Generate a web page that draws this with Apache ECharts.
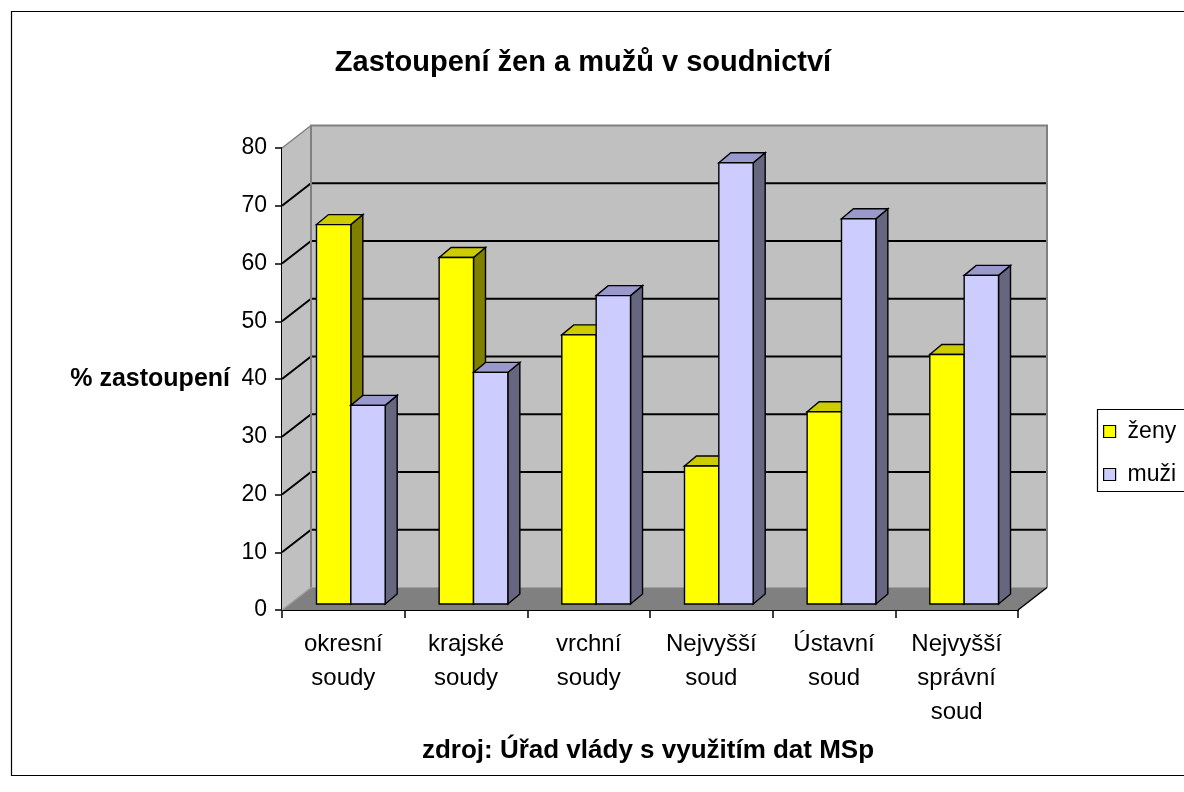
<!DOCTYPE html>
<html>
<head>
<meta charset="utf-8">
<script src="https://cdn.jsdelivr.net/npm/echarts@6/dist/echarts.min.js"></script>
<style>
html,body{margin:0;padding:0;background:#fff;}
#chart{width:1184px;height:792px;}
</style>
</head>
<body>
<div id="chart"></div>
<script>
// ---- data ----
const categories = ['okresní\nsoudy', 'krajské\nsoudy', 'vrchní\nsoudy', 'Nejvyšší\nsoud', 'Ústavní\nsoud', 'Nejvyšší\nsprávní\nsoud'];
const zeny = [65.7, 60.0, 46.6, 23.9, 33.3, 43.2];
const muzi = [34.4, 40.1, 53.4, 76.4, 66.7, 56.9];
const yTicks = [0, 10, 20, 30, 40, 50, 60, 70, 80];
const seriesNames = ['ženy', 'muži'];
const titleText = 'Zastoupení žen a mužů v soudnictví';
const yAxisTitle = '% zastoupení';
const sourceText = 'zdroj: Úřad vlády s využitím dat MSp';

const FONT = "'Liberation Sans', Arial, sans-serif";
// 3D projection offsets (pixels)
const BACK = [29, -22.5];     // back wall relative to front plane
const BAR_FRONT = [7.5, -6];  // bar front face relative to front plane
const BAR_DEPTH = [12, -10];  // bar depth
const COLORS = {
  zeny: {front: '#FFFF00', top: '#CCCC00', side: '#808000'},
  muzi: {front: '#CCCCFF', top: '#9999CC', side: '#666680'}
};

const chart = echarts.init(document.getElementById('chart'), null, {renderer: 'canvas'});

function wallsRender(params, api) {
  const cs = params.coordSys;
  const L = cs.x, R = cs.x + cs.width, B = cs.y + cs.height, T = cs.y;
  const bx = BACK[0], by = BACK[1];
  const children = [];
  children.push({type: 'polygon', shape: {points: [[L, B], [L, T], [L + bx, T + by], [L + bx, B + by]]},
    style: {fill: '#C0C0C0', stroke: null}});
  children.push({type: 'rect', shape: {x: L + bx, y: T + by, width: cs.width, height: cs.height},
    style: {fill: '#C0C0C0', stroke: null}});
  children.push({type: 'polygon', shape: {points: [[L, B], [R, B], [R + bx, B + by], [L + bx, B + by]]},
    style: {fill: '#808080', stroke: null}});
  yTicks.forEach(function (t) {
    const p = api.coord([0, t]);
    const y = p[1];
    const edge = (t === yTicks[0] || t === yTicks[yTicks.length - 1]);
    const col = edge ? '#808080' : '#000000';
    children.push({type: 'line', shape: {x1: L, y1: y, x2: L + bx, y2: y + by},
      style: {stroke: t === yTicks[0] ? '#A0A0A0' : col, lineWidth: edge ? 1.5 : 2}});
    if (!edge) {
      children.push({type: 'line', shape: {x1: L + bx, y1: y + by, x2: R + bx, y2: y + by},
        style: {stroke: '#000', lineWidth: 2}});
    }
  });
  children.push({type: 'polyline', shape: {points: [[L + bx, B + by], [L + bx, T + by], [R + bx, T + by], [R + bx, B + by]]},
    style: {stroke: '#808080', lineWidth: 2, fill: null}});
  children.push({type: 'line', shape: {x1: L + bx, y1: B + by, x2: R + bx, y2: B + by},
    style: {stroke: '#A0A0A0', lineWidth: 1}});
  children.push({type: 'line', shape: {x1: R, y1: B, x2: R + bx, y2: B + by},
    style: {stroke: '#000', lineWidth: 1.5}});
  return {type: 'group', children: children};
}

function makeBarRender(side, col) {
  return function (params, api) {
    const cat = api.value(0), v = api.value(1);
    const p0 = api.coord([cat, 0]);
    const p1 = api.coord([cat, v]);
    const bw = api.size([1, 0])[0] * 0.28;
    const x = p0[0] + BAR_FRONT[0] + (side === 0 ? -bw : 0);
    const yb = p0[1] + BAR_FRONT[1];
    const yt = p1[1] + BAR_FRONT[1];
    const dx = BAR_DEPTH[0], dy = BAR_DEPTH[1];
    const st = {stroke: '#000', lineWidth: 1.4, lineJoin: 'miter'};
    return {
      type: 'group',
      children: [
        {type: 'polygon', shape: {points: [[x + bw, yb], [x + bw + dx, yb + dy], [x + bw + dx, yt + dy], [x + bw, yt]]},
          style: Object.assign({fill: col.side}, st)},
        {type: 'polygon', shape: {points: [[x, yt], [x + dx, yt + dy], [x + bw + dx, yt + dy], [x + bw, yt]]},
          style: Object.assign({fill: col.top}, st)},
        {type: 'rect', shape: {x: x, y: yt, width: bw, height: yb - yt},
          style: Object.assign({fill: col.front}, st)}
      ]
    };
  };
}

const option = {
  backgroundColor: '#ffffff',
  animation: false,
  title: {
    text: titleText,
    left: 578,
    textAlign: 'center',
    top: 43,
    textStyle: {fontFamily: FONT, fontSize: 29, fontWeight: 'bold', color: '#000'}
  },
  legend: {
    orient: 'vertical',
    left: 1103,
    top: 420,
    padding: 0,
    itemWidth: 12,
    itemHeight: 12,
    itemGap: 20,
    textStyle: {fontFamily: FONT, fontSize: 23, color: '#000', padding: [0, 0, 0, 7]},
    data: [
      {name: seriesNames[0], icon: 'rect', itemStyle: {color: COLORS.zeny.front, borderColor: '#000', borderWidth: 1.2}},
      {name: seriesNames[1], icon: 'rect', itemStyle: {color: COLORS.muzi.front, borderColor: '#000', borderWidth: 1.2}}
    ]
  },
  grid: {left: 282, right: 166, top: 148, bottom: 182, containLabel: false},
  xAxis: {
    type: 'category',
    data: categories,
    boundaryGap: true,
    axisLine: {show: true, lineStyle: {color: '#000', width: 2}},
    axisTick: {show: true, length: 8, lineStyle: {color: '#000', width: 1.5}},
    axisLabel: {interval: 0, fontFamily: FONT, fontSize: 24, lineHeight: 34, color: '#000', margin: 17},
    splitLine: {show: false}
  },
  yAxis: {
    type: 'value',
    min: 0,
    max: 80,
    interval: 10,
    axisLine: {show: true, lineStyle: {color: '#000', width: 2}},
    axisTick: {show: true, length: 7, lineStyle: {color: '#000', width: 1.5}},
    axisLabel: {fontFamily: FONT, fontSize: 23, color: '#000', margin: 15},
    splitLine: {show: false}
  },
  graphic: [
    {type: 'rect', shape: {x: 11.5, y: 11.5, width: 1200, height: 764}, style: {fill: null, stroke: '#000', lineWidth: 1.2}, z: -10, silent: true},
    {type: 'rect', shape: {x: 1097.5, y: 409.5, width: 120, height: 82}, style: {fill: '#fff', stroke: '#000', lineWidth: 1.2}, z: 0, silent: true},
    {type: 'text', x: 230, y: 379, style: {text: yAxisTitle, font: 'bold 25px ' + FONT, fill: '#000', textAlign: 'right', textVerticalAlign: 'middle'}, silent: true},
    {type: 'text', x: 648, y: 751, style: {text: sourceText, font: 'bold 26px ' + FONT, fill: '#000', textAlign: 'center', textVerticalAlign: 'middle'}, silent: true}
  ],
  series: [
    {
      name: 'walls', type: 'custom', data: [[0, 0]], renderItem: wallsRender, clip: false, silent: true, z: 1
    },
    {
      name: seriesNames[0], type: 'custom', clip: false, z: 2,
      itemStyle: {color: COLORS.zeny.front},
      data: zeny.map(function (v, i) { return [i, v]; }),
      encode: {x: 0, y: 1},
      renderItem: makeBarRender(0, COLORS.zeny)
    },
    {
      name: seriesNames[1], type: 'custom', clip: false, z: 3,
      itemStyle: {color: COLORS.muzi.front},
      data: muzi.map(function (v, i) { return [i, v]; }),
      encode: {x: 0, y: 1},
      renderItem: makeBarRender(1, COLORS.muzi)
    }
  ]
};
chart.setOption(option);
</script>
</body>
</html>
